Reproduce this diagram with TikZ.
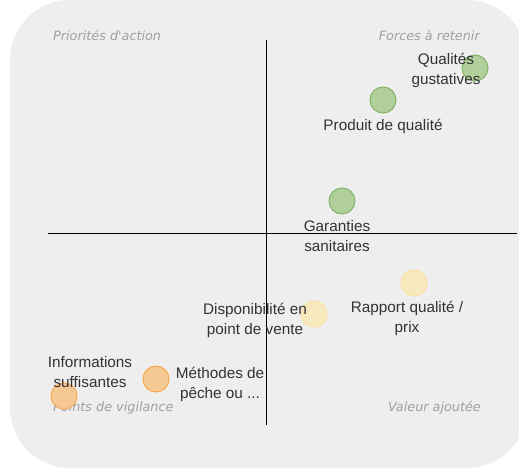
\documentclass[tikz,border=0pt]{standalone}
\usepackage{fontspec}
\setmainfont{Liberation Sans}
\newfontfamily\quadfont{DejaVu Sans}
\usetikzlibrary{positioning}

\definecolor{panel}{HTML}{EEEEEE}
\definecolor{txt}{HTML}{333333}
\definecolor{quadtxt}{HTML}{A0A0A0}
\definecolor{greenfill}{HTML}{B0CF9A}
\definecolor{greenline}{HTML}{82B366}
\definecolor{yellowfill}{HTML}{F7E8BE}
\definecolor{yellowline}{HTML}{FBE3A4}
\definecolor{orangefill}{HTML}{F5C894}
\definecolor{orangeline}{HTML}{F5AA50}

\begin{document}
\begin{tikzpicture}[
    x=1pt, y=-1pt,
    % Styles
    dot/.style={ % Matrix bubble
        circle,
        minimum size=26pt,
        inner sep=0pt,
        line width=1pt
    },
    good/.style={dot, draw=greenline, fill=greenfill},
    mid/.style={dot, draw=yellowline, fill=yellowfill},
    weak/.style={dot, draw=orangeline, fill=orangefill},
    label/.style={ % Bubble caption
        align=center,
        text=txt,
        inner sep=0pt,
        font=\fontsize{15.3}{20}\selectfont
    },
    quadrant/.style={ % Quadrant title
        text=quadtxt,
        inner sep=0pt,
        font=\quadfont\itshape\fontsize{12.8}{14}\selectfont
    },
    axis/.style={
        black,
        line width=0.9pt
    }
]
    \useasboundingbox (0,0) rectangle (519,469);
    \fill[panel, rounded corners=60pt] (10,0) rectangle (527,468);

    % Axes
    \coordinate (ytop) at (266,40);
    \coordinate (ybot) at (266,425);
    \coordinate (xleft) at (48,233);
    \coordinate (xright) at (517,233);
    \draw[axis] (ytop) -- (ybot);
    \draw[axis] (xleft) -- (xright);

    % Quadrant titles
    \node[quadrant, anchor=west] (prio) at (53,35) {Priorités d'action};
    \node[quadrant, anchor=east] (forces) at (480,35) {Forces à retenir};
    \node[quadrant, anchor=west] (vigil) at (53,408) {Points de vigilance};
    \node[quadrant, anchor=east] (valeur) at (481,408) {Valeur ajoutée};

    % Bubbles
    \node[good] (gout) at (475,68) {};
    \node[good] (produit) at (383,100) {};
    \node[good] (garanties) at (342,201) {};
    \node[mid] (rapport) at (414,283) {};
    \node[mid] (dispo) at (314,314) {};
    \node[weak] (methodes) at (156,379) {};
    \node[weak] (infos) at (64,396) {};

    % Captions
    \node[label] (t-gout) at (446,70) {Qualités\\gustatives};
    \node[label] (t-produit) at (383,126) {Produit de qualité};
    \node[label] (t-garanties) at (337,236) {Garanties\\sanitaires};
    \node[label] (t-rapport) at (407,318) {Rapport qualité /\\prix};
    \node[label] (t-dispo) at (255,320) {Disponibilité en\\point de vente};
    \node[label] (t-methodes) at (220,384) {Méthodes de\\pêche ou ...};
    \node[label] (t-infos) at (90,372) {Informations\\suffisantes};
\end{tikzpicture}
\end{document}
